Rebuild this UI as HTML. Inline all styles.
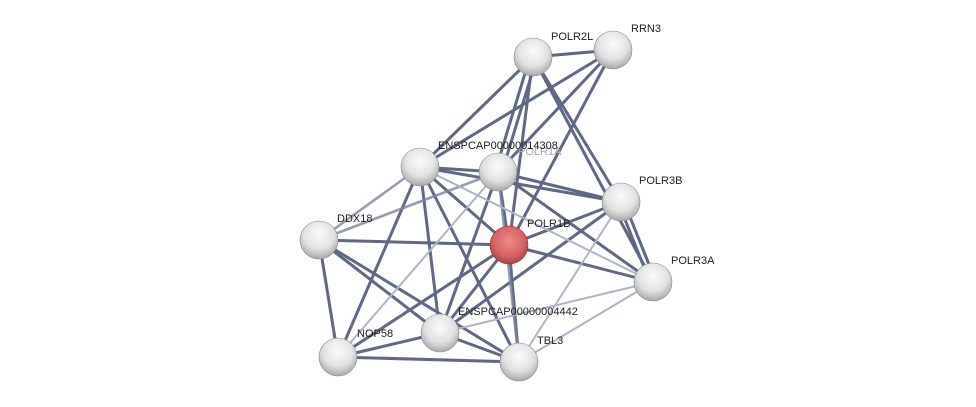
<!DOCTYPE html>
<html><head><style>body{margin:0;background:#fff}svg{display:block}text{font-family:"Liberation Sans",sans-serif;font-size:11px;fill:#222}</style></head><body>
<svg width="976" height="407" viewBox="0 0 976 407">
<defs>
<radialGradient id="g" cx="0.5" cy="0.35" r="0.65"><stop offset="0" stop-color="#fafafa"/><stop offset="0.6" stop-color="#e2e2e2"/><stop offset="1" stop-color="#a8a8a8"/></radialGradient>
<radialGradient id="r" cx="0.5" cy="0.4" r="0.65"><stop offset="0" stop-color="#f08a8a"/><stop offset="0.6" stop-color="#d86464"/><stop offset="1" stop-color="#a03838"/></radialGradient>
</defs>
<g stroke-linecap="round">
<g stroke="#4e5877" stroke-width="3" opacity="0.9">
<line x1="533" y1="57" x2="613" y2="50"/><line x1="533" y1="57" x2="420" y2="167"/><line x1="530" y1="57" x2="495" y2="172"/><line x1="537" y1="57" x2="502" y2="172"/><line x1="533" y1="57" x2="509" y2="245"/><line x1="533" y1="57" x2="621" y2="202"/><line x1="533" y1="57" x2="653" y2="282"/>
<line x1="613" y1="50" x2="420" y2="167"/><line x1="613" y1="50" x2="498" y2="172"/><line x1="613" y1="50" x2="509" y2="245"/>
<line x1="420" y1="167" x2="498" y2="172"/><line x1="420" y1="167" x2="621" y2="202"/><line x1="420" y1="167" x2="509" y2="245"/><line x1="420" y1="167" x2="338" y2="357"/><line x1="420" y1="167" x2="440" y2="333"/><line x1="420" y1="167" x2="519" y2="362"/>
<line x1="498" y1="172" x2="621" y2="202"/><line x1="498" y1="172" x2="509" y2="245"/><line x1="498" y1="172" x2="653" y2="282"/><line x1="498" y1="172" x2="440" y2="333"/>
<line x1="621" y1="202" x2="509" y2="245"/><line x1="618" y1="202" x2="650" y2="282"/><line x1="624" y1="202" x2="656" y2="282"/><line x1="621" y1="202" x2="440" y2="333"/>
<line x1="319" y1="240" x2="509" y2="245"/><line x1="319" y1="240" x2="338" y2="357"/><line x1="319" y1="240" x2="440" y2="333"/><line x1="319" y1="240" x2="519" y2="362"/>
<line x1="509" y1="245" x2="653" y2="282"/><line x1="509" y1="245" x2="338" y2="357"/><line x1="509" y1="245" x2="440" y2="333"/><line x1="509" y1="245" x2="519" y2="362"/>
<line x1="440" y1="333" x2="338" y2="357"/><line x1="440" y1="333" x2="519" y2="362"/><line x1="338" y1="357" x2="519" y2="362"/>
</g>
<g stroke="#7c84a0" stroke-width="2.6" opacity="0.8">
<line x1="420" y1="167" x2="319" y2="240"/><line x1="498" y1="172" x2="319" y2="240"/><line x1="498" y1="172" x2="519" y2="362"/>
</g>
<g stroke="#aeb3c6" stroke-width="2">
<line x1="420" y1="167" x2="653" y2="282"/><line x1="498" y1="172" x2="338" y2="357"/><line x1="621" y1="202" x2="519" y2="362"/><line x1="653" y1="282" x2="440" y2="333"/><line x1="653" y1="282" x2="519" y2="362"/>
</g>
</g>
<g stroke="#888" stroke-width="0.6">
<circle cx="533" cy="57" r="19" fill="url(#g)"/><circle cx="613" cy="50" r="19" fill="url(#g)"/><circle cx="420" cy="167" r="19" fill="url(#g)"/><circle cx="498" cy="172" r="19" fill="url(#g)"/><circle cx="621" cy="202" r="19" fill="url(#g)"/><circle cx="319" cy="240" r="19" fill="url(#g)"/><circle cx="509" cy="245" r="19" fill="url(#r)" stroke="#903030"/><circle cx="653" cy="282" r="19" fill="url(#g)"/><circle cx="440" cy="333" r="19" fill="url(#g)"/><circle cx="338" cy="357" r="19" fill="url(#g)"/><circle cx="519" cy="362" r="19" fill="url(#g)"/>
</g>
<text x="551" y="40">POLR2L</text><text x="631" y="32">RRN3</text><text x="518" y="155" style="fill:#aaa">POLR1A</text><text x="438" y="149">ENSPCAP00000014308</text><text x="639" y="184">POLR3B</text><text x="337" y="222">DDX18</text><text x="527" y="227">POLR1B</text><text x="671" y="264">POLR3A</text><text x="458" y="315">ENSPCAP00000004442</text><text x="357" y="337">NOP58</text><text x="537" y="344">TBL3</text>
</svg>
</body></html>
